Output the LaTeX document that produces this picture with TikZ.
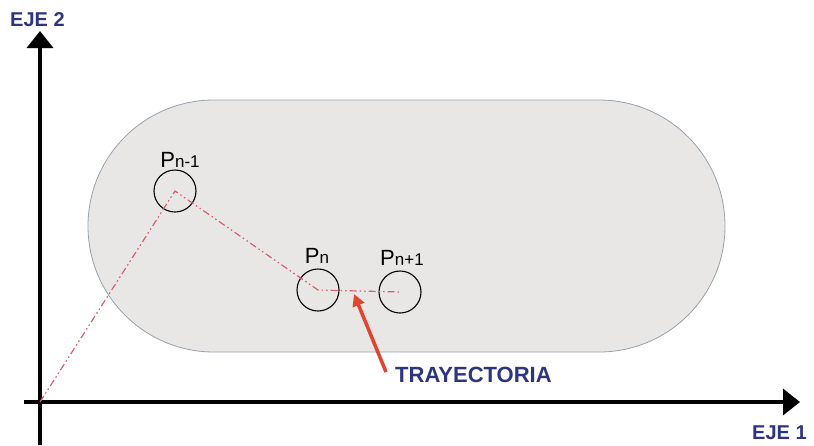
\documentclass[tikz,border=0pt]{standalone}
\usepackage{fontspec}
\setmainfont{Liberation Sans}
\usetikzlibrary{arrows.meta}
\definecolor{labelblue}{HTML}{2E3580}
\definecolor{zonefill}{HTML}{E9E7E5}
\definecolor{zoneline}{HTML}{98A2AC}
\definecolor{trackred}{HTML}{D8606A}
\definecolor{arrowred}{HTML}{E2452F}
\tikzset{
  axis/.style={line width=3.5pt, black, -{Triangle[length=17pt,width=26pt]}},
  axislabel/.style={text=labelblue, font=\bfseries\fontsize{20}{20}\selectfont, inner sep=0pt},
  point/.style={circle, draw=black, line width=1.1pt, minimum size=42pt, inner sep=0pt},
  plabel/.style={font=\fontsize{22}{22}\selectfont, inner sep=0pt},
  track/.style={trackred, line width=1.2pt, dash pattern=on 7pt off 3pt on 1.5pt off 3pt on 1.5pt off 3pt},
}
\newcommand{\subtxt}[1]{{\fontsize{17}{17}\selectfont #1}}
\begin{document}
\begin{tikzpicture}[x=1pt,y=-1pt]
  \useasboundingbox (0,0) rectangle (814,445);
  \fill[white] (0,0) rectangle (814,445);
  % operating zone
  \draw[fill=zonefill, draw=zoneline, line width=0.8pt, rounded corners=126pt] (88,100) rectangle (725,352);
  % axes
  \coordinate (o) at (40,402);
  \coordinate (ybot) at (40,445);
  \coordinate (ytop) at (40,31);
  \coordinate (xleft) at (24,402);
  \coordinate (xright) at (800,402);
  \draw[axis] (ybot) -- (ytop);
  \draw[axis] (xleft) -- (xright);
  \node[axislabel, anchor=west] (eje2) at (10,20) {EJE 2};
  \node[axislabel, anchor=west] (eje1) at (752,433) {EJE 1};
  % points
  \node[point] (p1) at (175,191) {};
  \node[point] (p2) at (318,290) {};
  \node[point] (p3) at (400,292) {};
  \node[plabel] (l1) at (180,160) {P\subtxt{n-1}};
  \node[plabel] (l2) at (317,256) {P\subtxt{n}};
  \node[plabel] (l3) at (402,258) {P\subtxt{n+1}};
  % trajectory
  \draw[track] (o) -- (p1.center) -- (p2.center) -- (p3.center);
  % label with pointer
  \node[text=labelblue, font=\bfseries\fontsize{22}{22}\selectfont, inner sep=0pt, anchor=west] (tr) at (395,375) {TRAYECTORIA};
  \coordinate (tip) at (354,294);
  \coordinate (tail) at (386,372);
  \draw[arrowred, line width=3.5pt, -{Triangle[length=12pt,width=12pt]}] (tail) -- (tip);
\end{tikzpicture}
\end{document}
